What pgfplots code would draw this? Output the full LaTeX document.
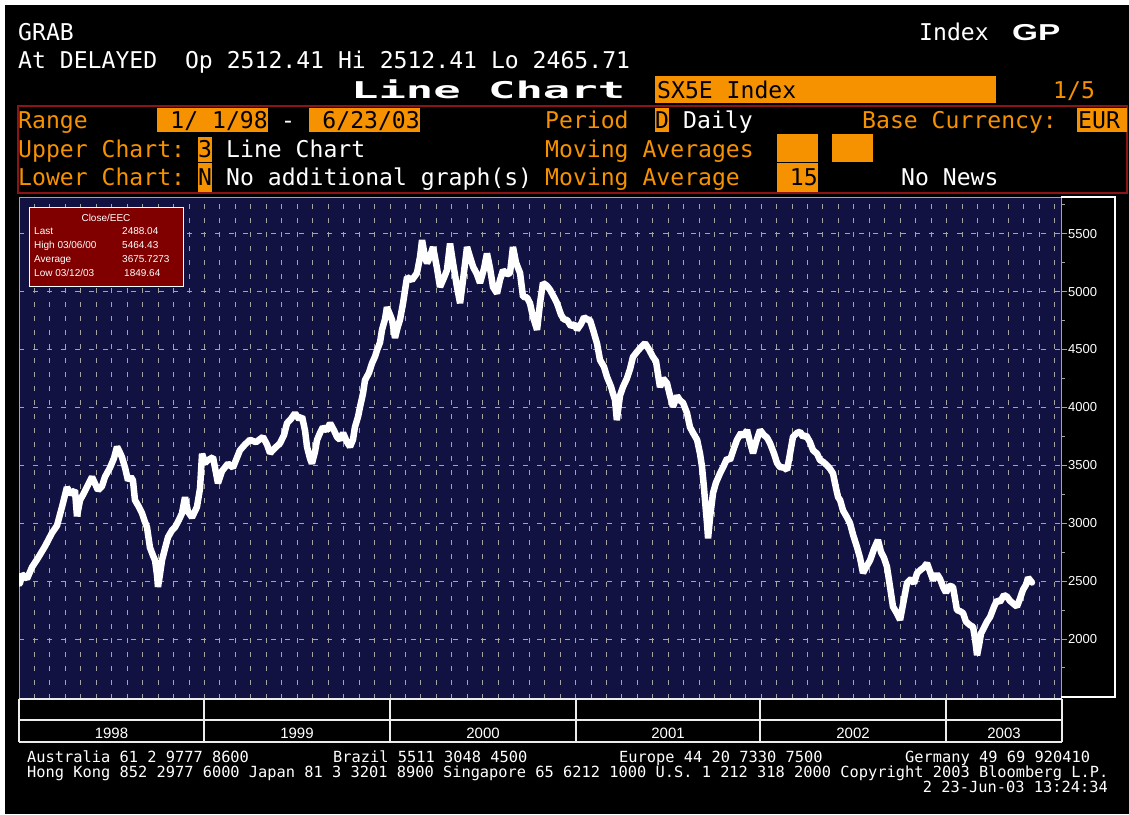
\documentclass[border=0pt]{standalone}
\usepackage{graphicx}
\usepackage{pgfplots}
\pgfplotsset{compat=1.18}
\usepackage{pgfplotstable}
\usepackage{fontspec}
\setmainfont{Liberation Sans}
\newfontfamily\bbmono{DejaVu Sans Mono}
\newfontfamily\bbsans{Liberation Sans}
\definecolor{bbnavy}{RGB}{17,17,66}
\definecolor{bborange}{RGB}{246,146,0}
\definecolor{bbred}{RGB}{140,20,20}
\definecolor{bbgrid}{RGB}{165,165,165}
\definecolor{legred}{RGB}{128,0,0}

\pgfplotstableread{
m v
0.06 2480
0.19 2560
0.52 2520
0.84 2620
1.23 2700
1.68 2800
2.13 2915
2.46 2980
2.78 3140
3.10 3310
3.36 3250
3.62 3285
3.75 3060
3.95 3200
4.20 3260
4.46 3330
4.72 3400
5.11 3285
5.37 3320
5.56 3400
5.89 3480
6.14 3560
6.34 3660
6.53 3610
6.66 3570
6.86 3480
7.05 3370
7.24 3400
7.37 3370
7.50 3200
7.76 3140
7.96 3085
8.15 3010
8.28 2965
8.47 2790
8.67 2720
8.80 2680
8.93 2550
8.99 2450
9.12 2560
9.25 2680
9.44 2780
9.64 2880
9.90 2940
10.09 2965
10.35 3030
10.54 3085
10.74 3225
10.93 3100
11.19 3050
11.51 3140
11.71 3300
11.84 3600
12.03 3520
12.22 3545
12.55 3570
12.87 3345
13.13 3450
13.52 3515
13.84 3480
14.29 3630
14.62 3680
14.94 3720
15.33 3700
15.78 3745
16.04 3680
16.24 3605
16.56 3650
16.88 3690
17.14 3760
17.34 3865
17.59 3900
17.85 3950
18.11 3900
18.31 3920
18.50 3800
18.63 3660
18.82 3560
18.95 3515
19.15 3620
19.28 3720
19.47 3780
19.66 3830
19.92 3800
20.12 3865
20.38 3800
20.57 3745
20.76 3720
20.96 3780
21.22 3700
21.41 3660
21.60 3720
21.73 3830
21.93 3920
22.06 4005
22.25 4120
22.38 4235
22.64 4300
22.83 4380
23.03 4440
23.16 4495
23.35 4560
23.48 4670
23.67 4760
23.80 4865
24.00 4800
24.13 4755
24.32 4600
24.51 4700
24.64 4755
24.84 4900
25.10 5125
25.42 5100
25.74 5160
25.94 5300
26.07 5445
26.26 5300
26.39 5245
26.58 5300
26.78 5385
27.04 5200
27.23 5040
27.49 5120
27.68 5185
27.88 5415
28.07 5250
28.33 5040
28.53 4900
28.72 5100
28.98 5385
29.17 5300
29.37 5215
29.62 5150
29.82 5075
30.08 5200
30.27 5330
30.47 5200
30.66 5040
30.92 4985
31.11 5100
31.31 5185
31.57 5150
31.76 5160
31.95 5385
32.15 5250
32.41 5160
32.60 4955
32.86 4950
33.05 4900
33.25 4780
33.51 4670
33.70 4900
33.89 5075
34.15 5050
34.35 5015
34.61 4950
34.80 4900
35.06 4800
35.25 4760
35.45 4755
35.71 4700
35.96 4720
36.09 4670
36.35 4720
36.55 4780
36.74 4760
36.93 4755
37.13 4670
37.39 4550
37.58 4410
37.84 4350
38.03 4265
38.29 4180
38.42 4120
38.55 4065
38.67 3890
38.87 4100
39.06 4175
39.32 4250
39.52 4330
39.71 4435
39.97 4480
40.23 4520
40.49 4555
40.75 4500
41.01 4435
41.20 4400
41.46 4175
41.66 4250
41.91 4210
42.11 4100
42.30 4005
42.56 4100
42.76 4060
42.95 4040
43.21 3950
43.40 3830
43.60 3780
43.86 3720
44.05 3600
44.18 3485
44.31 3300
44.37 3200
44.50 3000
44.57 2870
44.70 3050
44.89 3260
45.08 3350
45.34 3430
45.60 3500
45.80 3560
45.99 3545
46.25 3650
46.44 3720
46.70 3780
46.90 3750
47.09 3805
47.28 3700
47.48 3605
47.67 3700
47.93 3805
48.19 3760
48.38 3740
48.58 3690
48.84 3600
49.03 3520
49.22 3485
49.48 3480
49.68 3460
49.87 3600
50.06 3745
50.32 3780
50.52 3790
50.71 3745
50.91 3760
51.16 3700
51.36 3630
51.62 3600
51.81 3545
52.01 3530
52.26 3500
52.46 3470
52.65 3430
52.85 3300
52.98 3225
53.11 3200
53.30 3110
53.56 3050
53.75 3000
53.95 2900
54.20 2795
54.40 2700
54.59 2570
54.79 2620
55.05 2680
55.31 2780
55.56 2855
55.76 2750
55.95 2700
56.14 2625
56.34 2450
56.53 2280
56.79 2220
56.99 2165
57.18 2300
57.44 2485
57.70 2520
57.89 2480
58.09 2570
58.34 2600
58.54 2620
58.73 2655
58.93 2580
59.12 2510
59.38 2560
59.57 2520
59.77 2450
59.96 2400
60.16 2460
60.41 2450
60.54 2350
60.67 2250
60.87 2240
61.06 2225
61.25 2150
61.51 2120
61.71 2105
61.84 2000
61.97 1860
62.10 1950
62.23 2050
62.35 2080
62.61 2150
62.81 2190
63.07 2280
63.26 2335
63.45 2320
63.71 2380
63.91 2365
64.10 2330
64.36 2300
64.55 2280
64.75 2350
64.94 2425
65.14 2470
65.27 2530
65.39 2510
65.52 2488
}\sxdata

\newcommand{\mono}{\fontsize{23.1}{24}\bbmono}
\newcommand{\foot}{\fontsize{15.35}{16}\bbmono}

\begin{document}
\begin{tikzpicture}[x=1pt,y=1pt]
\useasboundingbox (0,0) rectangle (1129,-814);
\fill[white] (0,0) rectangle (1129,-814);
\fill[black] (5,-5) rectangle (1129,-814);

% header
\tikzset{bbt/.style={anchor=base west, inner sep=0pt, font=\mono}}
\node[bbt, text=white] at (18,-40) {GRAB};
\node[bbt, text=white] at (919,-40) {Index};
\node[anchor=base west, inner sep=0pt, text=white] at (1012,-40) {\scalebox{1.45}[1]{\fontsize{23}{23}\bbsans\bfseries GP}};
\node[bbt, text=white] at (18,-68) {At DELAYED~~Op 2512.41 Hi 2512.41 Lo 2465.71};
\node[anchor=base west, inner sep=0pt, text=white] at (351,-98) {\scalebox{1.97}[1]{\mono\bfseries Line Chart}};
\fill[bborange] (655,-76) rectangle (996,-103);
\node[bbt, text=black] at (657,-98) {SX5E Index};
\node[bbt, text=bborange] at (1053,-98) {1/5};

\draw[bbred, line width=1.3pt] (18,-106) rectangle (1127,-193);

% row 1
\node[bbt, text=bborange] at (18,-128) {Range};
\fill[bborange] (157,-108) rectangle (268,-132);
\node[anchor=base east, inner sep=0pt, font=\mono, text=black] at (268,-128) {1/~1/98};
\node[bbt, text=white] at (281,-128) {-};
\fill[bborange] (309,-108) rectangle (420,-132);
\node[anchor=base east, inner sep=0pt, font=\mono, text=black] at (420,-128) {6/23/03};
\node[bbt, text=bborange] at (545,-128) {Period};
\fill[bborange] (655,-108) rectangle (669,-132);
\node[bbt, text=black] at (655,-128) {D};
\node[bbt, text=white] at (683,-128) {Daily};
\node[bbt, text=bborange] at (862,-128) {Base Currency:};
\fill[bborange] (1077,-108) rectangle (1127,-132);
\node[bbt, text=black] at (1078,-128) {EUR};

% row 2
\node[bbt, text=bborange] at (18,-157) {Upper Chart:};
\fill[bborange] (198,-137) rectangle (212,-162);
\node[bbt, text=black] at (198,-157) {3};
\node[bbt, text=white] at (226,-157) {Line Chart};
\node[bbt, text=bborange] at (545,-157) {Moving Averages};
\fill[bborange] (777,-134) rectangle (818,-162);
\fill[bborange] (832,-134) rectangle (873,-162);

% row 3
\node[bbt, text=bborange] at (18,-185) {Lower Chart:};
\fill[bborange] (198,-163) rectangle (212,-192);
\node[bbt, text=black] at (198,-185) {N};
\node[bbt, text=white] at (226,-185) {No additional graph(s)};
\node[bbt, text=bborange] at (545,-185) {Moving Average};
\fill[bborange] (777,-163) rectangle (818,-192);
\node[anchor=base east, inner sep=0pt, font=\mono, text=black] at (818,-185) {15};
\node[bbt, text=white] at (901,-185) {No News};

% chart
\begin{axis}[
  at={(19pt,-699pt)}, anchor=south west,
  scale only axis, width=1042pt, height=502pt,
  xmin=0, xmax=67.4, ymin=1482, ymax=5817,
  axis background/.style={fill=bbnavy},
  axis line style={draw=bbgrid, line width=1pt},
  xtick={1,...,67}, xticklabels={}, xtick style={draw=none},
  ytick={2000,2500,...,5500},
  minor ytick={1750,2250,...,5750},
  ytick pos=right, yticklabel pos=right,
  tick align=outside,
  major tick length=6pt, minor tick length=4pt,
  ytick style={draw=bbgrid, line width=1pt},
  yticklabel style={font=\fontsize{13}{13}\bbsans, text=white, anchor=west, inner sep=0pt, xshift=1pt},
  /pgf/number format/assume math mode=true,
  /pgf/number format/set thousands separator={},
  xmajorgrids, ymajorgrids,
  major grid style={draw=bbgrid, dash pattern=on 5pt off 9pt, line width=1pt},
]
\addplot[white, line width=6.5pt, line join=bevel, line cap=round] table[x=m,y=v]{\sxdata};
\end{axis}

% legend box
\fill[legred] (29,-207) rectangle (183,-286);
\draw[white, line width=1pt] (29,-207) rectangle (183,-286);
\tikzset{bbl/.style={anchor=base west, inner sep=0pt, text=white, font=\fontsize{10}{10}\bbsans}}
\node[anchor=base, inner sep=0pt, text=white, font=\fontsize{10}{10}\bbsans] at (106,-221) {Close/EEC};
\node[bbl] at (34,-234) {Last};
\node[bbl] at (122,-234) {2488.04};
\node[bbl] at (34,-248) {High 03/06/00};
\node[bbl] at (122,-248) {5464.43};
\node[bbl] at (34,-262) {Average};
\node[bbl] at (122,-262) {3675.7273};
\node[bbl] at (34,-276) {Low 03/12/03};
\node[bbl] at (124,-276) {1849.64};

% right panel frame
\draw[white, line width=1.2pt] (1061,-197) -- (1115,-197) -- (1115,-697) -- (1061,-697);

% year band
\draw[white!85!gray, line width=1.5pt] (19,-699) -- (1062,-699) (19,-720) -- (1062,-720) (19,-742) -- (1062,-742);
\foreach \xx in {19,204,390,576,760,946,1062} {\draw[white!85!gray, line width=1.5pt] (\xx,-699) -- (\xx,-742);}
\tikzset{bby/.style={anchor=base, inner sep=0pt, text=white, font=\fontsize{15}{15}\bbsans}}
\node[bby] at (111.5,-738) {1998};
\node[bby] at (297,-738) {1999};
\node[bby] at (483,-738) {2000};
\node[bby] at (668,-738) {2001};
\node[bby] at (853,-738) {2002};
\node[bby] at (1004,-738) {2003};

% footer
\tikzset{bbf/.style={anchor=base west, inner sep=0pt, text=white, font=\foot}}
\node[bbf] at (27,-762) {Australia 61 2 9777 8600};
\node[bbf] at (333,-762) {Brazil 5511 3048 4500};
\node[bbf] at (619,-762) {Europe 44 20 7330 7500};
\node[bbf] at (905,-762) {Germany 49 69 920410};
\node[bbf] at (27,-777) {Hong Kong 852 2977 6000 Japan 81 3 3201 8900 Singapore 65 6212 1000 U.S. 1 212 318 2000 Copyright 2003 Bloomberg L.P.};
\node[anchor=base east, inner sep=0pt, text=white, font=\foot] at (1108,-792) {2 23-Jun-03 13:24:34};
\end{tikzpicture}
\end{document}
